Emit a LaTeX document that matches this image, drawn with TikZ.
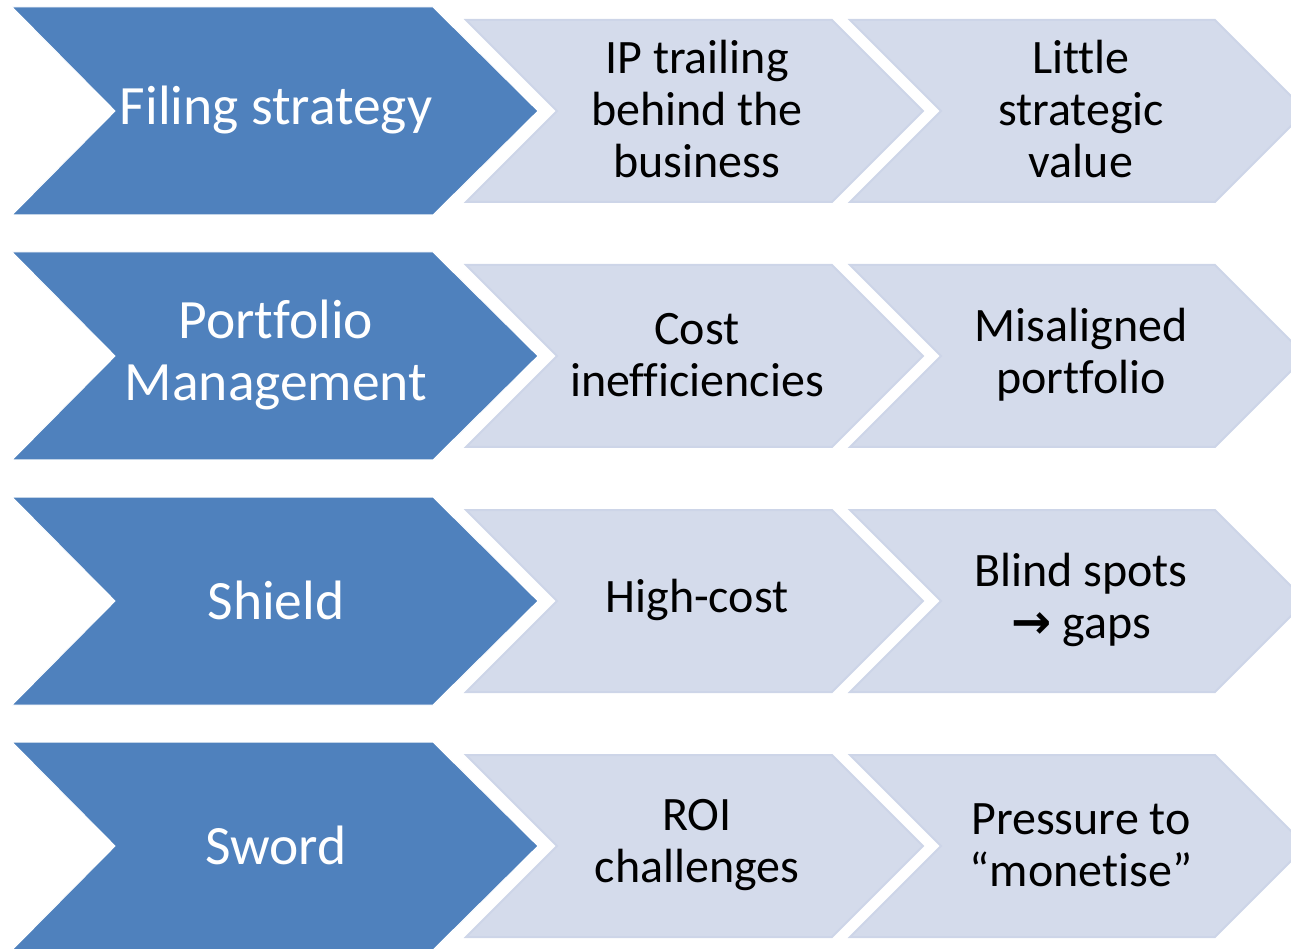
\documentclass[tikz,border=0pt]{standalone}
\usepackage{fontspec}
\setmainfont{Carlito}[Ligatures={NoCommon,NoContextual}, Contextuals=NoAlternate]
\newfontfamily\arrowfont{DejaVu Sans}
\definecolor{chevblue}{RGB}{79,129,189}
\definecolor{chevlight}{RGB}{212,219,235}
\definecolor{chevedge}{RGB}{205,213,232}

\begin{document}
\begin{tikzpicture}[x=1pt, y=-1pt,
    darkchev/.style={fill=chevblue, draw=white, line width=1pt},
    lightchev/.style={fill=chevlight, draw=chevedge, line width=2pt},
    headtext/.style={align=center, text=white, font=\fontsize{55.5}{62}\selectfont},
    celltext/.style={align=center, font=\fontsize{48}{52}\selectfont}]
    \useasboundingbox (0,0) rectangle (1291,949);
    \clip (0,0) rectangle (1291,949);
    % one row of chevrons per topic
    \foreach \y in {111,356,601,846}{
        \draw[darkchev] (12,\y-104) -- (433,\y-104) -- (538,\y) -- (433,\y+104) -- (12,\y+104) -- (115,\y) -- cycle;
        \draw[lightchev] (466,\y-91) -- (832,\y-91) -- (923,\y) -- (832,\y+91) -- (466,\y+91) -- (557,\y) -- cycle;
        \draw[lightchev] (850,\y-91) -- (1215,\y-91) -- (1306,\y) -- (1215,\y+91) -- (850,\y+91) -- (941,\y) -- cycle;
    }
    \node[headtext] (filing) at (276,110) {Filing strategy};
    \node[headtext] (portfolio) at (276,355) {Portfolio\\Management};
    \node[headtext] (shield) at (276,600) {Shield};
    \node[headtext] (sword) at (276,845) {Sword};
    \node[celltext] (trailing) at (697,109) {IP trailing\\behind the\\business};
    \node[celltext] (value) at (1081,109) {Little\\strategic\\value};
    \node[celltext] (cost) at (697,355) {Cost\\inefficiencies};
    \node[celltext] (misaligned) at (1081,355) {Misaligned\\portfolio};
    \node[celltext] (highcost) at (697,600) {High-cost};
    \node[celltext] (blind) at (1081,600) {Blind spots\\{\arrowfont\bfseries →} gaps};
    \node[celltext] (roi) at (697,845) {ROI\\challenges};
    \node[celltext] (pressure) at (1081,845) {Pressure to\\“monetise”};
\end{tikzpicture}
\end{document}
